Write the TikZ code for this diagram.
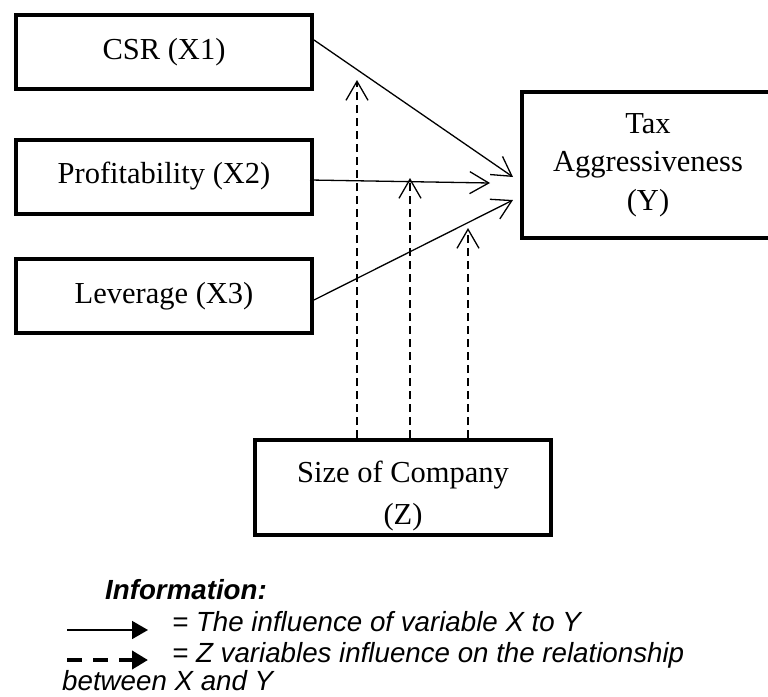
\documentclass[tikz,border=0pt]{standalone}
\usepackage{fontspec}
\setmainfont{Liberation Serif}
\setsansfont{Liberation Sans}
\usetikzlibrary{arrows.meta}
\tikzset{
    varbox/.style={draw,line width=4pt,minimum width=296pt,minimum height=74pt,
        inner sep=0pt,align=center,font=\fontsize{30.5}{38.5}\selectfont},
    effect/.style={line width=1.3pt,-{Straight Barb[length=19pt,width=22pt]}},
    moderate/.style={effect,dash pattern=on 8pt off 5pt},
    legtext/.style={anchor=base west,inner sep=0pt,
        font=\sffamily\itshape\fontsize{27.7}{33}\selectfont},
    legsolid/.style={line width=1.7pt,-{Triangle[length=16pt,width=18pt]}},
    legdashed/.style={line width=4pt,dash pattern=on 15pt off 11pt,
        -{Triangle[length=16pt,width=18pt]}}
}

\begin{document}
\begin{tikzpicture}[x=1pt,y=-1pt]
    \useasboundingbox (0,0) rectangle (768,696);
    \clip (0,0) rectangle (768,696);
    \node[varbox] (csr) at (164,52) {CSR (X1)};
    \node[varbox] (prof) at (164,176.5) {Profitability (X2)};
    \node[varbox] (lev) at (164,296) {Leverage (X3)};
    \node[varbox,minimum width=252pt,minimum height=146pt] (tax) at (648,165)
        {Tax\\Aggressiveness\\(Y)};
    \node[varbox,minimum height=95pt,font=\fontsize{30.5}{42}\selectfont] (size) at (403,487.5)
        {\raisebox{-8pt}[\height][\depth]{\begin{tabular}{@{}c@{}}Size of Company\\(Z)\end{tabular}}};
    % X -> Y
    \draw[effect] ([yshift=12pt]csr.east) -- ([xshift=-7pt,yshift=-12pt]tax.west);
    \draw[effect] ([xshift=-4pt,yshift=-3.5pt]prof.east) -- ([xshift=-30pt,yshift=-18pt]tax.west);
    \draw[effect] ([yshift=-4pt]lev.east) -- ([xshift=-7pt,yshift=-35pt]tax.west);
    % Z
    \coordinate (m1) at (357,80);
    \coordinate (m2) at (410,178);
    \coordinate (m3) at (468,228);
    \draw[moderate] ([xshift=-46pt]size.north) -- (m1);
    \draw[moderate] ([xshift=7pt]size.north) -- (m2);
    \draw[moderate] ([xshift=65pt]size.north) -- (m3);
    % legend
    \node[legtext,font=\sffamily\bfseries\itshape\fontsize{27.7}{33}\selectfont] (info) at (105,599) {Information:};
    \node[legtext] (leg1) at (172,631) {= The influence of variable X to Y};
    \node[legtext] (leg2) at (172,662) {= Z variables influence on the relationship};
    \node[legtext] (leg3) at (62,690) {between X and Y};
    \coordinate (s1) at (67,630);
    \coordinate (e1) at (148,630);
    \coordinate (s2) at (67,660);
    \coordinate (e2) at (148,660);
    \draw[legsolid] (s1) -- (e1);
    \draw[legdashed] (s2) -- (e2);
\end{tikzpicture}
\end{document}
